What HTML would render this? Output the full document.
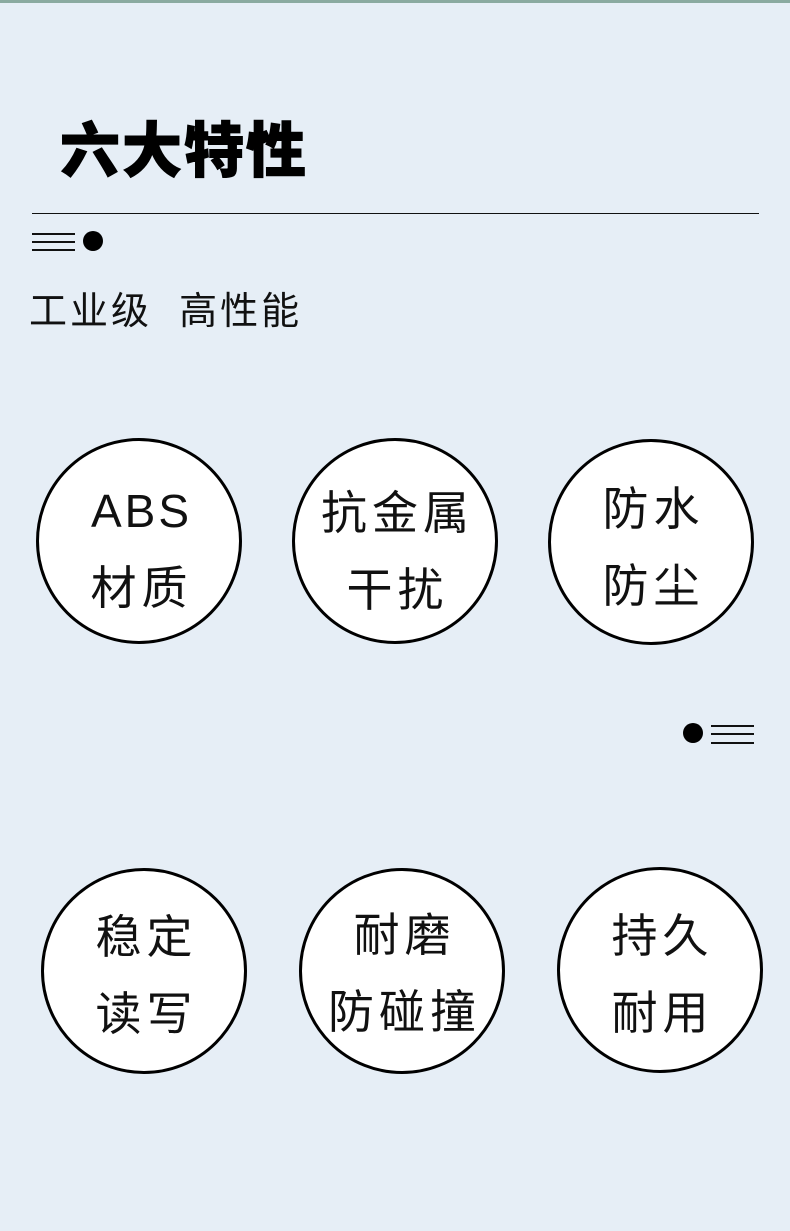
<!DOCTYPE html>
<html><head><meta charset="utf-8"><style>
body{margin:0;width:790px;height:1231px;background:#e6eef6;position:relative;overflow:hidden;font-family:"Liberation Sans","Noto Sans CJK SC",sans-serif;color:#111}
.a{position:absolute}
.c{position:absolute;width:200px;height:200px;border:3px solid #000;border-radius:50%;background:#fff;box-sizing:content-box}
.t{position:absolute;left:0;width:100%;text-align:center;font-size:46px;line-height:46px;letter-spacing:5px;white-space:nowrap;text-indent:5px}
.l{position:absolute;height:1.5px;background:#111}
</style></head><body>
<div class="a" style="left:0;top:0;width:790px;height:3px;background:#8aaaa0"></div>
<div class="a" style="left:60px;top:112px;font-size:60px;line-height:80px;font-weight:900;letter-spacing:2px;color:#000;-webkit-text-stroke:1px #000">六大特性</div>
<div class="l" style="left:32px;top:213px;width:727px;height:1.3px"></div>
<div class="l" style="left:32px;top:233px;width:43px"></div>
<div class="l" style="left:32px;top:241px;width:43px"></div>
<div class="l" style="left:32px;top:249px;width:43px"></div>
<div class="a" style="left:83px;top:231px;width:20px;height:20px;border-radius:50%;background:#000"></div>
<div class="a" style="left:29px;top:288px;font-size:38px;line-height:48px;letter-spacing:3px">工业级&nbsp;&nbsp;高性能</div>

<div class="c" style="left:36px;top:438px"><div class="t" style="top:47px;letter-spacing:3px">ABS</div><div class="t" style="top:124px">材质</div></div>
<div class="c" style="left:292px;top:438px"><div class="t" style="top:49px">抗金属</div><div class="t" style="top:126px">干扰</div></div>
<div class="c" style="left:548px;top:439px"><div class="t" style="top:44px">防水</div><div class="t" style="top:121px">防尘</div></div>

<div class="a" style="left:683px;top:723px;width:20px;height:20px;border-radius:50%;background:#000"></div>
<div class="l" style="left:711px;top:725px;width:43px"></div>
<div class="l" style="left:711px;top:733px;width:43px"></div>
<div class="l" style="left:711px;top:742px;width:43px"></div>

<div class="c" style="left:41px;top:868px"><div class="t" style="top:43px">稳定</div><div class="t" style="top:120px">读写</div></div>
<div class="c" style="left:299px;top:868px"><div class="t" style="top:41px">耐磨</div><div class="t" style="top:118px">防碰撞</div></div>
<div class="c" style="left:557px;top:867px"><div class="t" style="top:43px">持久</div><div class="t" style="top:120px">耐用</div></div>
</body></html>
